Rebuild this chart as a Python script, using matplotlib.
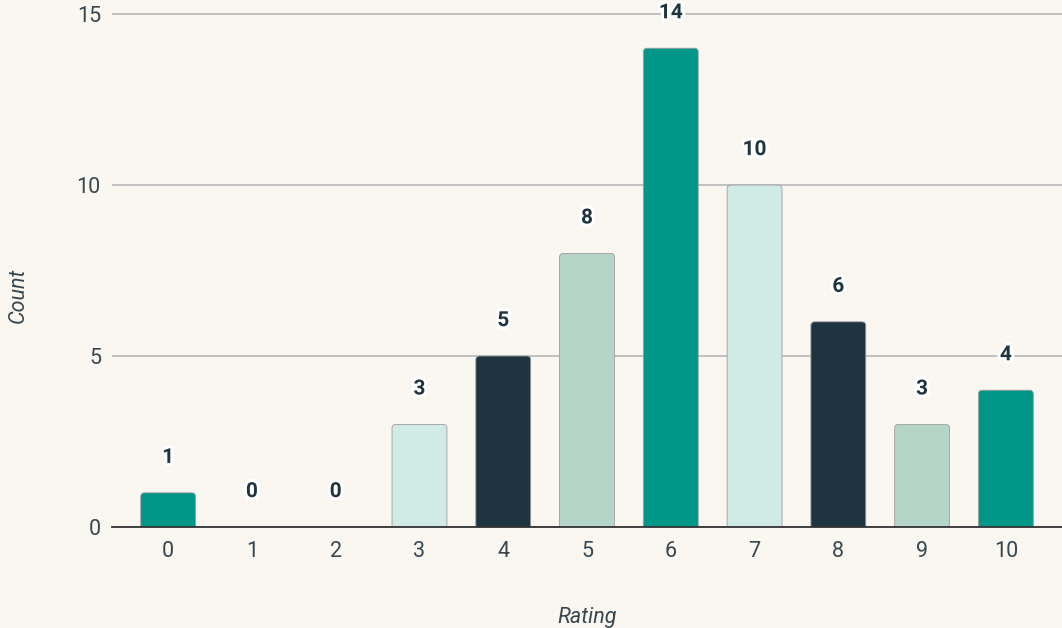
import matplotlib.pyplot as plt
import matplotlib.patheffects as pe
from matplotlib.patches import FancyBboxPatch

plt.rcParams['font.family'] = ['Roboto', 'DejaVu Sans']

# Données
ratings = [0, 1, 2, 3, 4, 5, 6, 7, 8, 9, 10]
counts = [1, 0, 0, 3, 5, 8, 14, 10, 6, 3, 4]
bar_colors = ['#009688', '#1E3540', '#B4D5C7', '#D0EAE5', '#1E3540', '#B4D5C7',
              '#009688', '#D0EAE5', '#1E3540', '#B4D5C7', '#009688']
y_ticks = [0, 5, 10, 15]

BG = '#FAF6F0'
TEXT = '#37474F'

fig = plt.figure(figsize=(10.62, 6.28), dpi=100, facecolor=BG)
ax = fig.add_axes([0.1055, 0.1608, 0.8945, 0.8185])
ax.set_facecolor(BG)

ax.set_xlim(-0.67, 10.67)
ax.set_ylim(0, 15.03)

# Barres à coins arrondis (on part sous zéro pour garder le bas carré)
bars = ax.bar(ratings, counts, width=0.655, color='none', edgecolor='none')
for rect, c, n in zip(bars, bar_colors, counts):
    if n == 0:
        continue
    patch = FancyBboxPatch((rect.get_x(), -0.5), rect.get_width(), rect.get_height() + 0.5,
                           boxstyle='round,pad=0,rounding_size=0.045',
                           mutation_aspect=2.45, facecolor=c,
                           edgecolor='#9E9E9E', linewidth=0.6, zorder=3)
    ax.add_patch(patch)

# Étiquettes de valeur
for x, n in zip(ratings, counts):
    ax.annotate(str(n), (x, n), xytext=(0, 25.5), textcoords='offset points',
                ha='center', va='center', fontsize=15, fontweight='bold',
                color='#1E3540', zorder=5,
                path_effects=[pe.withStroke(linewidth=4.5, foreground='white')])

ax.set_yticks(y_ticks)
ax.set_xticks(ratings)
ax.tick_params(axis='both', length=0, labelsize=15.5, labelcolor=TEXT)
ax.tick_params(axis='x', pad=10)
ax.tick_params(axis='y', pad=8)

ax.grid(axis='y', color='#BDBDBD', linewidth=1.3, zorder=0)
ax.set_axisbelow(True)
for s in ['top', 'left', 'right']:
    ax.spines[s].set_visible(False)
ax.spines['bottom'].set_color('#333333')
ax.spines['bottom'].set_linewidth(1.3)
ax.spines['bottom'].set_zorder(4)

fig.text(0.017, 0.53, 'Count', rotation=90, ha='center', va='center',
         fontsize=15.5, style='italic', color=TEXT)
fig.text(0.553, 0.017, 'Rating', ha='center', va='center',
         fontsize=15.5, style='italic', color=TEXT)

plt.savefig('out.png', dpi=100, facecolor=BG)
plt.close()
